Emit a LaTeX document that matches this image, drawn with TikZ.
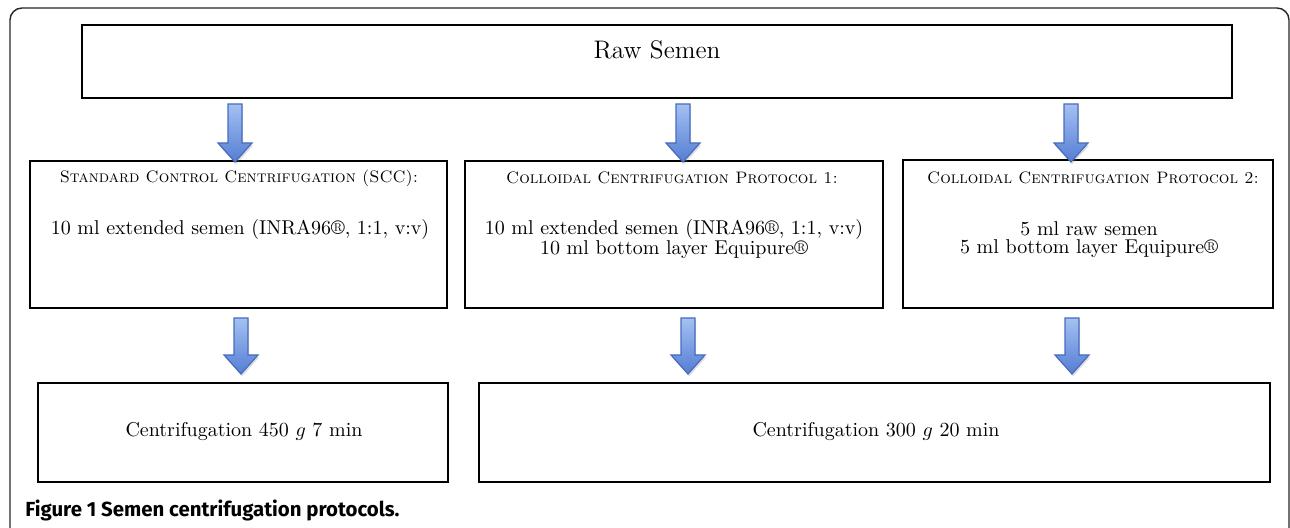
\documentclass[tikz,border=0pt]{standalone}
\usepackage{fontspec}
\newfontfamily\capfont{Fira Sans}
\usetikzlibrary{fit,calc,shadows}
\definecolor{arrtop}{RGB}{165,192,242}
\definecolor{arrbot}{RGB}{84,126,212}
\definecolor{arrline}{RGB}{70,108,190}
\tikzset{
  box/.style={draw=black, line width=1.3pt, inner sep=0pt},
  frame/.style={draw=black!85, line width=0.7pt, rounded corners=6pt},
  txt/.style={font=\fontsize{10}{9}\selectfont, align=center, inner sep=0pt},
  ttl/.style={font=\fontsize{8.3}{9}\selectfont\scshape, inner sep=0pt},
  bigtxt/.style={font=\fontsize{12.7}{15}\selectfont, inner sep=0pt},
  capt/.style={font=\capfont\bfseries\fontsize{10.2}{12}\selectfont, inner sep=0pt, anchor=base west},
  barrow/.style={top color=arrtop, bottom color=arrbot, draw=arrline, line width=0.6pt,
    drop shadow={opacity=0.25, shadow xshift=0.6pt, shadow yshift=-1.2pt}}
}
\newcommand{\blockarr}[2]{%
  \path[barrow] let \p1=(#1), \p2=(#2) in
    (\x1-3.5pt,\y1) -- (\x1+3.5pt,\y1) -- (\x1+3.5pt,\y2+9.5pt) -- (\x1+8.5pt,\y2+9.5pt)
    -- (\x1,\y2) -- (\x1-8.5pt,\y2+9.5pt) -- (\x1-3.5pt,\y2+9.5pt) -- cycle;}
\begin{document}
\begin{tikzpicture}[x=0.5pt,y=-0.5pt]
\useasboundingbox (0,0) rectangle (1290,528);
\begin{scope}
\clip (0,0) rectangle (1290,528);
\draw[frame] (10,8) rectangle (1289,560);
\end{scope}
% top box
\node[box, fit={(82,25)(1232,98)}] (raw) {};
\node[bigtxt] (rawt) at (657,50) {Raw Semen};
% middle boxes
\node[box, fit={(30,161)(447,308)}] (m1) {};
\node[box, fit={(465,161)(883,308)}] (m2) {};
\node[box, fit={(903,160)(1273,308)}] (m3) {};
\node[ttl] (m1t) at (239,178) {Standard Control Centrifugation (SCC):};
\node[txt] (m1b) at (240,230) {10 ml extended semen (INRA96\textregistered, 1:1, v:v)};
\node[ttl] (m2t) at (672,178) {Colloidal Centrifugation Protocol 1:};
\node[txt] (m2b) at (674,239) {10 ml extended semen (INRA96\textregistered, 1:1, v:v)\\10 ml bottom layer Equipure\textregistered};
\node[ttl] (m3t) at (1093,178) {Colloidal Centrifugation Protocol 2:};
\node[txt] (m3b) at (1089,240) {5 ml raw semen\\5 ml bottom layer Equipure\textregistered};
% bottom boxes
\node[box, fit={(38,383)(448,482)}] (b1) {};
\node[box, fit={(479,383)(1270,482)}] (b2) {};
\node[txt] (b1t) at (244,432) {Centrifugation 450 $g$ 7 min};
\node[txt] (b2t) at (876,432) {Centrifugation 300 $g$ 20 min};
% arrows
\coordinate (a1s) at (235,104); \coordinate (a1e) at (235,162);
\coordinate (a2s) at (683,104); \coordinate (a2e) at (683,162);
\coordinate (a3s) at (1071,104); \coordinate (a3e) at (1071,162);
\coordinate (a4s) at (241,318); \coordinate (a4e) at (241,374);
\coordinate (a5s) at (688,318); \coordinate (a5e) at (688,374);
\coordinate (a6s) at (1072,318); \coordinate (a6e) at (1072,374);
\blockarr{a1s}{a1e}
\blockarr{a2s}{a2e}
\blockarr{a3s}{a3e}
\blockarr{a4s}{a4e}
\blockarr{a5s}{a5e}
\blockarr{a6s}{a6e}
% caption
\node[capt] (cap) at (25,517) {Figure 1 Semen centrifugation protocols.};
\end{tikzpicture}
\end{document}
